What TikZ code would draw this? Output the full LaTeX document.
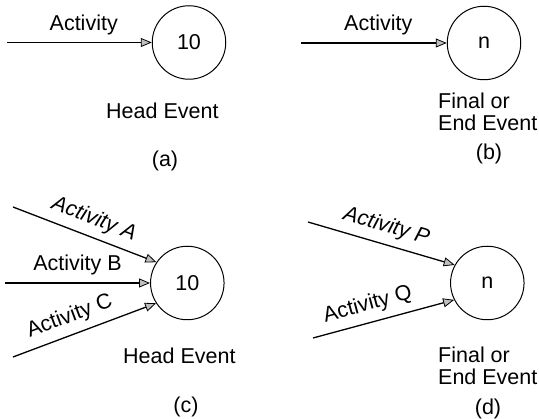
\documentclass[tikz,border=0pt]{standalone}
\usepackage{fontspec}
\setmainfont{Liberation Sans}
\usetikzlibrary{arrows.meta}
\begin{document}
\begin{tikzpicture}[x=1pt, y=-1pt,
  every node/.style={font=\fontsize{21.5}{22}\selectfont, inner sep=0pt},
  event/.style={circle, draw, line width=1pt, minimum size=73.5pt},
  act/.style={line width=1.3pt, -{Triangle[length=11pt, width=9pt, fill=gray!50, line width=0.8pt]}},
  actlbl/.style={sloped, above=7pt},
  caption/.style={anchor=north west, align=left},
  tag/.style={anchor=center},
]
\useasboundingbox (0,0) rectangle (539,419);

% (a) single activity into a head event
\node[event] (ea) at (189,42.5) {10};
\coordinate (sa) at (7,42.5);
\draw[act] (sa) -- node[actlbl, pos=0.53] (la) {Activity} (ea.west);
\node[caption] (ha) at (106,103) {Head Event};
\node[tag] (ta) at (165,161) {(a)};

% (b) single activity into the final event
\node[event] (eb) at (484,43) {n};
\coordinate (sb) at (301,43);
\draw[act] (sb) -- node[actlbl, pos=0.53] (lb) {Activity} (eb.west);
\node[caption] (hb) at (438,93) {Final or\\End Event};
\node[tag] (tb) at (489,154) {(b)};

% (c) three activities merging at one head event
\node[event] (ec) at (187.3,283) {10};
\coordinate (sA) at (13,207);
\coordinate (sB) at (5,283);
\coordinate (sC) at (13,357);
\draw[act] (sA) -- node[actlbl, pos=0.52] (lA) {\itshape Activity A} (ec.146);
\draw[act] (sB) -- node[actlbl, pos=0.5] (lB) {Activity B} (ec.west);
\draw[act] (sC) -- node[actlbl, pos=0.44] (lC) {Activity C} (ec.213);
\node[caption] (hc) at (123,348) {Head Event};
\node[tag] (tc) at (186,407) {(c)};

% (d) two activities ending at the final event
\node[event] (ed) at (487.3,283) {n};
\coordinate (sP) at (308,222);
\coordinate (sQ) at (313,338);
\draw[act] (sP) -- node[actlbl, pos=0.5] (lP) {\itshape Activity P} (ed.151);
\draw[act] (sQ) -- node[actlbl, pos=0.42] (lQ) {Activity Q} (ed.207);
\node[caption] (hd) at (438,347) {Final or\\End Event};
\node[tag] (td) at (488,409) {(d)};
\end{tikzpicture}
\end{document}
